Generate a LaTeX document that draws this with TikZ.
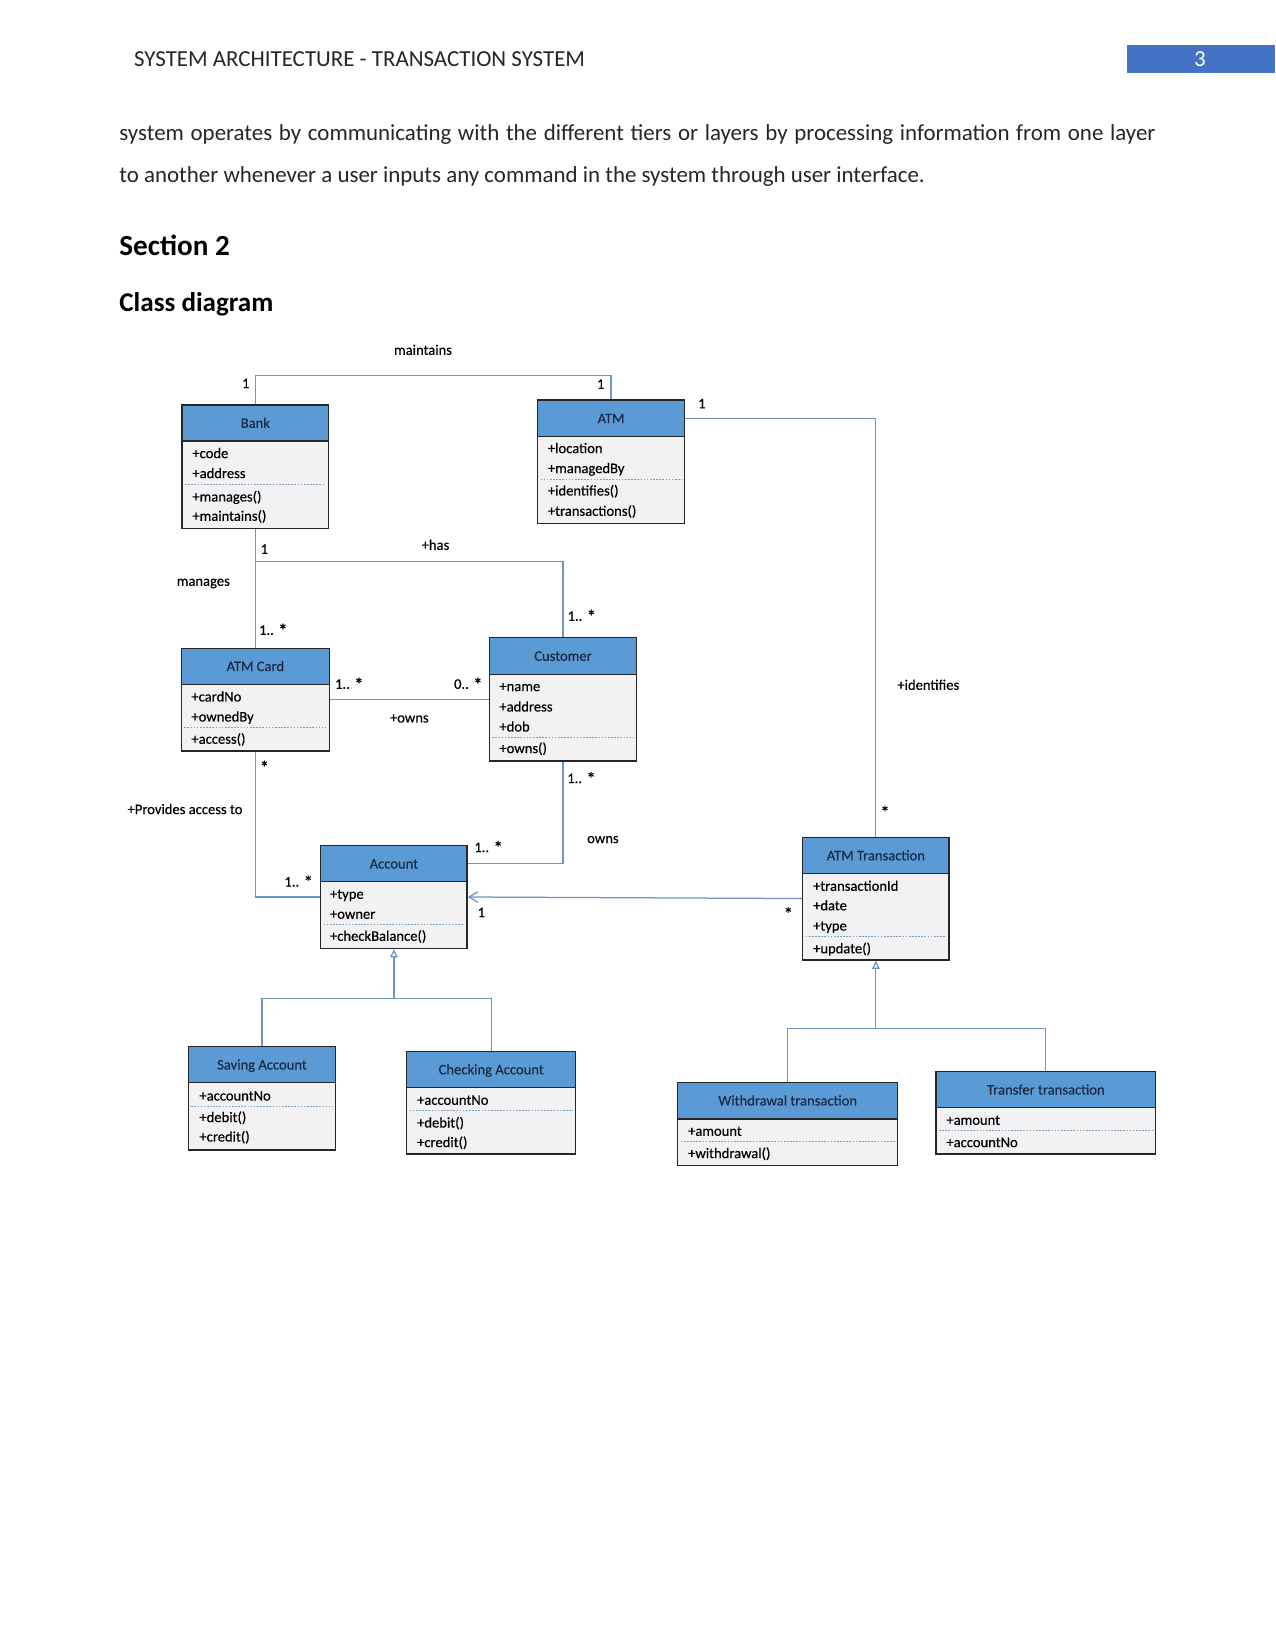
\documentclass[tikz,border=0pt]{standalone}
\usepackage{fontspec}
\setmainfont{Carlito}
\newfontfamily\diagfont{Carlito}[FakeBold=0.35]
\usetikzlibrary{arrows.meta,fit}
\definecolor{headblue}{HTML}{5B9BD5}
\definecolor{bodygray}{HTML}{F2F2F2}
\definecolor{boxline}{HTML}{262626}
\definecolor{connblue}{HTML}{6996C3}
\definecolor{sepblue}{HTML}{7F9FBF}
\definecolor{headtext}{HTML}{1A2A44}
\definecolor{pageblue}{HTML}{4472C4}
\definecolor{pagetext}{HTML}{262626}
\newcommand\umlclass[7]{%
  \node[classbody, fit={(#2,#3) (#4,#6)}] (#1) {};
  \node[classhead, fit={(#2,#3) (#4,#5)}] (#1-h) {};
  \node[headlbl] at (#1-h.center) {#7};
}
\newcommand\umlsep[3]{\draw[sepline] (#1+3,#3) -- (#2-3,#3);}
\newcommand\bigst{\raisebox{-1pt}{\fontsize{9}{9}\selectfont *}}
\begin{document}
\begin{tikzpicture}[x=0.48pt,y=-0.48pt,
  classbody/.style={draw=boxline, line width=0.7pt, fill=bodygray, inner sep=0pt},
  classhead/.style={draw=boxline, line width=0.7pt, fill=headblue, inner sep=0pt},
  headlbl/.style={inner sep=0pt, text height=4.6pt, text depth=0pt, text=headtext, font=\diagfont\fontsize{7}{8.4}\selectfont},
  attr/.style={anchor=west, inner sep=0pt, text height=4.6pt, text depth=0pt, font=\diagfont\fontsize{7}{8.4}\selectfont},
  lbl/.style={inner sep=0pt, text height=4.6pt, text depth=0pt, font=\diagfont\fontsize{7}{8.4}\selectfont},
  sepline/.style={draw=sepblue, line width=0.45pt, dash pattern=on 0.8pt off 0.7pt},
  conn/.style={draw=connblue, line width=0.6pt},
  gen/.style={conn, {Triangle[open, length=4pt, width=3.6pt, fill=white]}-},
  nav/.style={conn, -{Straight Barb[length=4.2pt, width=5pt]}},
  pline/.style={anchor=west, inner sep=0pt, text height=7.5pt, text depth=0pt, font=\fontsize{11}{13}\selectfont, text=pagetext},
  heading/.style={anchor=west, inner sep=0pt, text height=9pt, text depth=0pt, font=\fontsize{14}{17}\selectfont\bfseries}
]
\useasboundingbox (0,0) rectangle (1275,1651);
\fill[white] (0,0) rectangle (1275,1651);

% page header
\fill[pageblue] (1126.5,45.3) rectangle (1275,72.6);
\node[pline, anchor=center, text=white] (pgnum) at (1200,59) {3};
\node[pline] (runhead) at (133.7,59) {SYSTEM ARCHITECTURE - TRANSACTION SYSTEM};

% body text
\node[pline] (line1) at (119,132.6) {\makebox[497.3pt][s]{system operates by communicating with the different tiers or layers by processing information from one layer}};
\node[pline] (line2) at (119,174.8) {to another whenever a user inputs any command in the system through user interface.};
\node[heading] (sec) at (119,245.8) {Section 2};
\node[heading, text height=8.4pt, font=\fontsize{13}{16}\selectfont\bfseries] (cls) at (119,302.6) {Class diagram};

% classes
\umlclass{bank}{182.1}{405}{328.6}{441}{528.3}{Bank}
\node[attr] at (192,453.3) {+code};
\node[attr] at (192,473.3) {+address};
\umlsep{182.1}{328.6}{484.3}
\node[attr] at (192,496.7) {+manages()};
\node[attr] at (192,516) {+maintains()};

\umlclass{atm}{537.5}{400}{684.6}{436.7}{523.3}{ATM}
\node[attr] at (547.5,448.3) {+location};
\node[attr] at (547.5,468.3) {+managedBy};
\umlsep{537.5}{684.6}{479.7}
\node[attr] at (547.5,490.7) {+identifies()};
\node[attr] at (547.5,511) {+transactions()};

\umlclass{atmcard}{181.3}{648.3}{329.4}{684.3}{751}{ATM Card}
\node[attr] at (191,696.7) {+cardNo};
\node[attr] at (191,716.7) {+ownedBy};
\umlsep{181.3}{329.4}{727.7}
\node[attr] at (191,739) {+access()};

\umlclass{customer}{489.3}{637.7}{636.7}{674.3}{761}{Customer}
\node[attr] at (499,686.3) {+name};
\node[attr] at (499,706.7) {+address};
\node[attr] at (499,726.7) {+dob};
\umlsep{489.3}{636.7}{737.7}
\node[attr] at (499,748.3) {+owns()};

\umlclass{account}{320.7}{845.7}{467.1}{881.7}{948.3}{Account}
\node[attr] at (329.6,894) {+type};
\node[attr] at (329.6,914) {+owner};
\umlsep{320.7}{467.1}{924.3}
\node[attr] at (329.6,936) {+checkBalance()};

\umlclass{atmt}{802.7}{837.3}{949}{873.7}{959.8}{ATM Transaction}
\node[attr] at (812.7,886) {+transactionId};
\node[attr] at (812.7,905.5) {+date};
\node[attr] at (812.7,925.8) {+type};
\umlsep{802.7}{949}{936.8}
\node[attr] at (812.7,948.5) {+update()};

\umlclass{saving}{188.3}{1046.7}{335.7}{1082.7}{1150}{Saving Account}
\node[attr] at (199,1095.7) {+accountNo};
\umlsep{188.3}{335.7}{1106}
\node[attr] at (199,1117.3) {+debit()};
\node[attr] at (199,1136.7) {+credit()};

\umlclass{checking}{406.7}{1051.7}{575.7}{1087.3}{1154}{Checking Account}
\node[attr] at (416.7,1100) {+accountNo};
\umlsep{406.7}{575.7}{1110.7}
\node[attr] at (416.7,1122.7) {+debit()};
\node[attr] at (416.7,1142.3) {+credit()};

\umlclass{withdrawal}{677.7}{1082.3}{897.7}{1119}{1165.7}{Withdrawal transaction}
\node[attr] at (687.7,1131) {+amount};
\umlsep{677.7}{897.7}{1141}
\node[attr] at (687.7,1153.3) {+withdrawal()};

\umlclass{transfer}{936}{1071.7}{1155.7}{1107.7}{1154}{Transfer transaction}
\node[attr] at (946,1120) {+amount};
\umlsep{936}{1155.7}{1130.7}
\node[attr] at (946,1142.3) {+accountNo};

% junction coordinates
\coordinate (mtop) at (0,375.7);
\coordinate (hasj) at (255.35,561.7);
\coordinate (accj) at (0,998.3);
\coordinate (trj) at (0,1028.6);

% connectors
\draw[conn] (bank.north) -- (bank.north |- mtop) -| (atm.north);
\draw[conn] (atm-h.east) -| (atmt.north);
\draw[conn] (bank.south) -- (atmcard.north);
\draw[conn] (hasj) -| (customer.north);
\draw[conn] (atmcard.east) -- (atmcard.east -| customer.west);
\draw[conn] (atmcard.south) |- (account.west);
\draw[conn] (customer.south) |- (account-h.east);
\draw[nav] (atmt.west) -- (account.east);
\draw[gen] (account.south) -- (account.south |- accj);
\draw[conn] (saving.north) -- (saving.north |- accj) -| (checking.north);
\draw[gen] (atmt.south) -- (atmt.south |- trj);
\draw[conn] (withdrawal.north) -- (withdrawal.north |- trj) -| (transfer.north);

% connector labels
\node[lbl] at (423,350) {maintains};
\node[lbl] at (245.7,383.3) {1};
\node[lbl] at (600.7,384) {1};
\node[lbl] at (701.8,403.5) {1};
\node[lbl] at (264.3,549) {1};
\node[lbl] at (435.5,545) {+has};
\node[lbl] at (203.3,581) {manages};
\node[lbl] at (273.3,630) {1.. \bigst};
\node[lbl] at (581.8,616) {1.. \bigst};
\node[lbl] at (349.3,684) {1.. \bigst};
\node[lbl] at (468.3,684) {0.. \bigst};
\node[lbl] at (409.3,717.7) {+owns};
\node[lbl] at (264.4,767) {\bigst};
\node[lbl] at (928.3,685) {+identifies};
\node[lbl] at (581.5,778.3) {1.. \bigst};
\node[lbl] at (185,809.3) {+Provides access to};
\node[lbl] at (602.9,838.3) {owns};
\node[lbl] at (488.6,847.3) {1.. \bigst};
\node[lbl] at (298.7,881.7) {1.. \bigst};
\node[lbl] at (481.4,912.3) {1};
\node[lbl] at (788.3,913.5) {\bigst};
\node[lbl] at (885,812) {\bigst};
\end{tikzpicture}
\end{document}
